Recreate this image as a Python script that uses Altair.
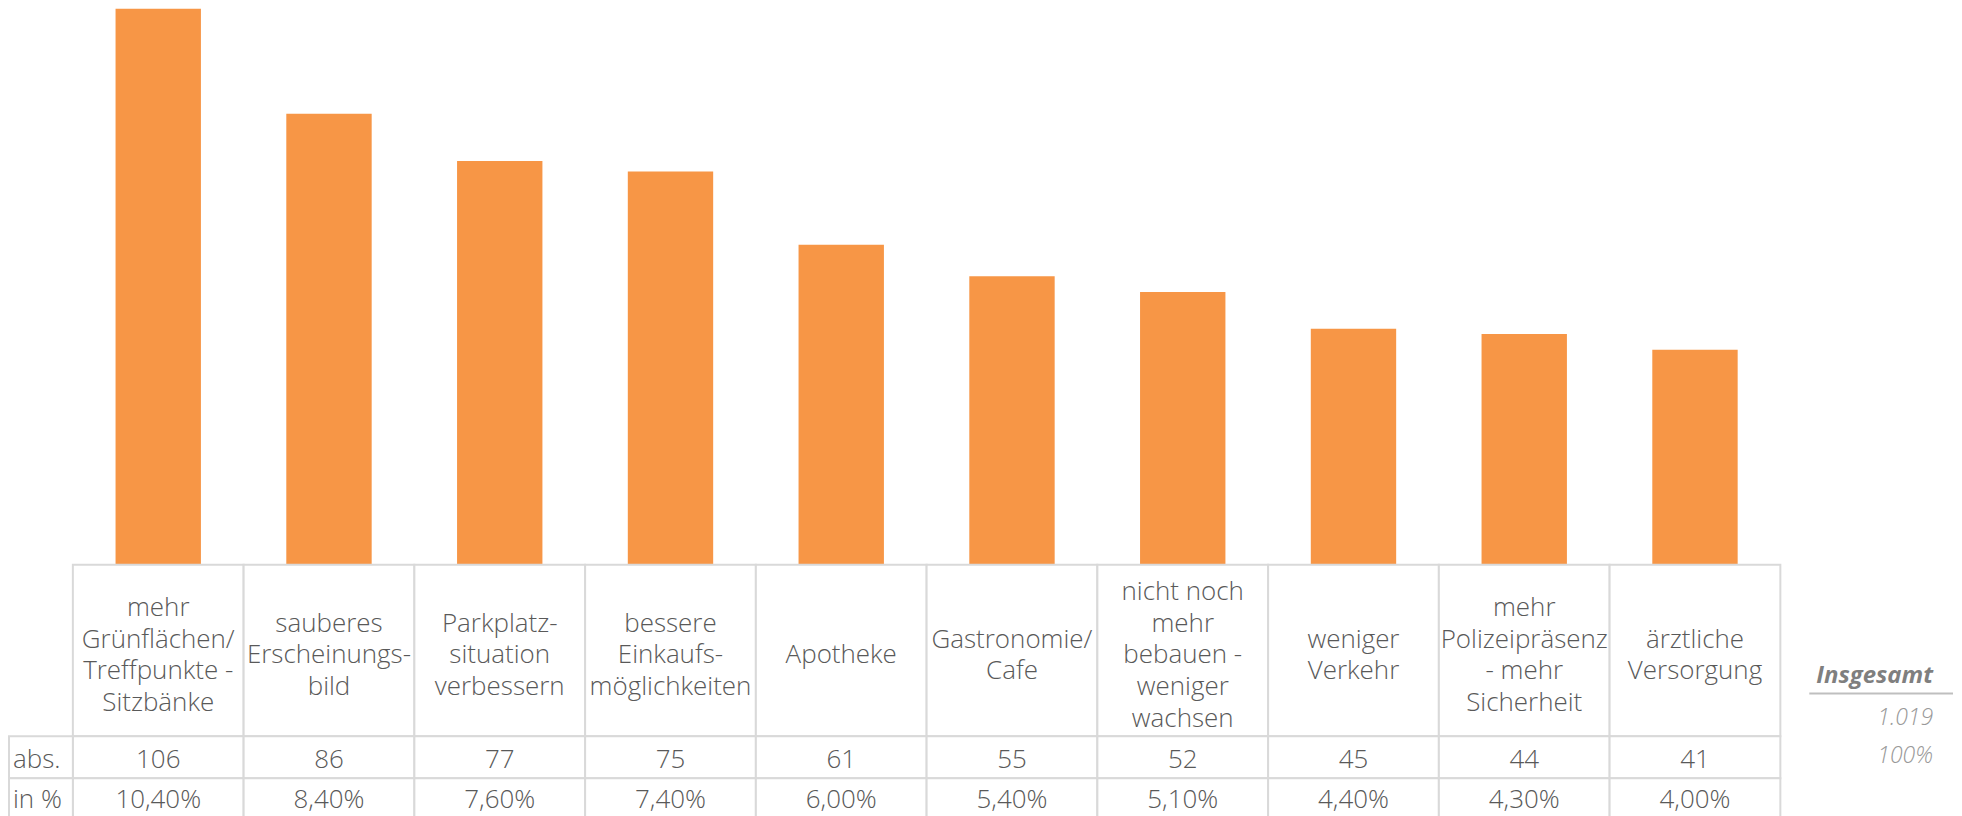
import altair as alt
import pandas as pd

# ---- data -------------------------------------------------------------
categories = [
    "mehr\nGrünflächen/\nTreffpunkte -\nSitzbänke",
    "sauberes\nErscheinungs-\nbild",
    "Parkplatz-\nsituation\nverbessern",
    "bessere\nEinkaufs-\nmöglichkeiten",
    "Apotheke",
    "Gastronomie/\nCafe",
    "nicht noch\nmehr\nbebauen -\nweniger\nwachsen",
    "weniger\nVerkehr",
    "mehr\nPolizeipräsenz\n- mehr\nSicherheit",
    "ärztliche\nVersorgung",
]
abs_values = [106, 86, 77, 75, 61, 55, 52, 45, 44, 41]
pct_labels = ["10,40%", "8,40%", "7,60%", "7,40%", "6,00%",
              "5,40%", "5,10%", "4,40%", "4,30%", "4,00%"]
row_labels = ["abs.", "in %"]
total_title = ["Insgesamt"]
total_abs = ["1.019"]
total_pct = ["100%"]

df = pd.DataFrame({"cat": categories, "abs": abs_values, "pct": pct_labels})

# ---- style ------------------------------------------------------------
FONT = "Open Sans"
FS = 26
GRID = "#D9D9D9"
TXT = "#595959"
ORANGE = "#F79646"
W, H = 1711, 813
BAR_H = 557
HDR_B = 729
ABS_B = 771
PCT_B = 813
LH = 32

base = alt.Chart(df).encode(
    x=alt.X("cat:N", sort=categories,
            scale=alt.Scale(paddingInner=0, paddingOuter=0), axis=None)
)

bars = base.mark_bar(color=ORANGE, width=alt.RelativeBandSize(0.5)).encode(
    y=alt.Y("abs:Q", scale=alt.Scale(domain=[0, 106], range=[BAR_H, 0], nice=False),
            axis=None)
)

cell = dict(fill="white", stroke=GRID, strokeWidth=2)
txt = dict(font=FONT, fontSize=FS, fontWeight=300, color=TXT, baseline="middle", align="center")

header_cells = base.mark_rect(**cell).encode(y=alt.value(BAR_H), y2=alt.value(HDR_B))
header_text = base.mark_text(lineBreak="\n", lineHeight=LH, **txt).transform_calculate(
    ty=f"{(BAR_H + HDR_B) / 2 + 5} - (length(split(datum.cat, '\\n')) - 1) * {LH / 2}"
).encode(y=alt.Y("ty:Q", scale=None, axis=None), text="cat:N")

abs_cells = base.mark_rect(**cell).encode(y=alt.value(HDR_B), y2=alt.value(ABS_B))
abs_text = base.mark_text(**txt).encode(y=alt.value((HDR_B + ABS_B) / 2 + 3), text="abs:Q")

pct_cells = base.mark_rect(**cell).encode(y=alt.value(ABS_B), y2=alt.value(PCT_B))
pct_text = base.mark_text(**txt).encode(y=alt.value(ABS_B + 22), text="pct:N")

lab1 = pd.DataFrame({"label": [row_labels[0]]})
lab2 = pd.DataFrame({"label": [row_labels[1]]})
lab1_cell = alt.Chart(lab1).mark_rect(**cell).encode(
    x=alt.value(-64), x2=alt.value(0), y=alt.value(HDR_B), y2=alt.value(ABS_B))
lab2_cell = alt.Chart(lab2).mark_rect(**cell).encode(
    x=alt.value(-64), x2=alt.value(0), y=alt.value(ABS_B), y2=alt.value(PCT_B))
lab1_text = alt.Chart(lab1).mark_text(font=FONT, fontSize=FS, fontWeight=300, color=TXT,
                                      baseline="middle", align="left").encode(
    x=alt.value(-60), y=alt.value((HDR_B + ABS_B) / 2 + 3), text="label:N")
lab2_text = alt.Chart(lab2).mark_text(font=FONT, fontSize=FS, fontWeight=300, color=TXT,
                                      baseline="middle", align="left").encode(
    x=alt.value(-60), y=alt.value(ABS_B + 22), text="label:N")

tot_title = alt.Chart(pd.DataFrame({"t": total_title})).mark_text(
    font=FONT, fontSize=24, fontStyle="italic", fontWeight="bold", color="#7F7F7F",
    align="right", baseline="middle").encode(
    x=alt.value(1864), y=alt.value(669), text="t:N")
tot_rule = alt.Chart(pd.DataFrame({"t": total_title})).mark_rule(
    color="#BFBFBF", strokeWidth=2).encode(
    x=alt.value(1740), x2=alt.value(1884), y=alt.value(686))
tot_abs = alt.Chart(pd.DataFrame({"t": total_abs})).mark_text(
    font=FONT, fontSize=23, fontStyle="italic", fontWeight=300, color="#999999",
    align="right", baseline="middle").encode(
    x=alt.value(1864), y=alt.value(711), text="t:N")
tot_pct = alt.Chart(pd.DataFrame({"t": total_pct})).mark_text(
    font=FONT, fontSize=23, fontStyle="italic", fontWeight=300, color="#999999",
    align="right", baseline="middle").encode(
    x=alt.value(1864), y=alt.value(749), text="t:N")

chart = alt.layer(
    bars, header_cells, abs_cells, pct_cells, lab1_cell, lab2_cell,
    header_text, abs_text, pct_text, lab1_text, lab2_text,
    tot_title, tot_rule, tot_abs, tot_pct,
).resolve_scale(y="independent").properties(
    width=W, height=H, padding=0
).configure_view(stroke=None)

chart.save("out.html", embed_options={"renderer": "svg", "actions": False})
